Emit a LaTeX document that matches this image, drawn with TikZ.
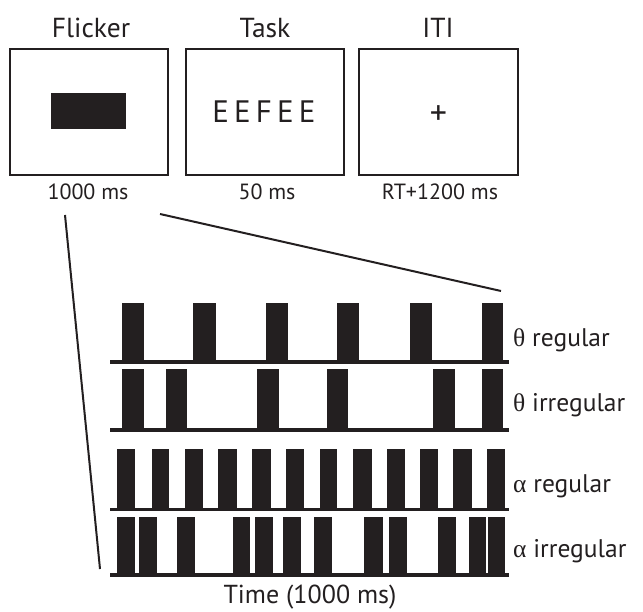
\documentclass[tikz,border=0pt]{standalone}
\usepackage{fontspec}
\setmainfont{PT Sans}
\newfontfamily\greekfont{Liberation Serif}
\definecolor{ink}{HTML}{231F20}
\begin{document}
\begin{tikzpicture}[x=1pt,y=-1pt,
  screen/.style={draw=ink,line width=2.7pt,fill=white},
  title/.style={anchor=base,inner sep=0pt,font=\fontsize{27.5}{32}\selectfont,text=ink},
  dur/.style={anchor=base,inner sep=0pt,font=\fontsize{22}{26}\selectfont,text=ink},
  lab/.style={anchor=base west,inner sep=0pt,font=\fontsize{25.5}{28}\selectfont,text=ink},
  zoomline/.style={draw=ink,line width=2pt},
  base/.style={draw=ink,line width=3.3pt},
  pulse/.style={fill=ink}]
\useasboundingbox (0,0) rectangle (643,612);
% screens
\draw[screen] (10,49) rectangle (168,175);
\draw[screen] (186,49) rectangle (344,175);
\draw[screen] (359,49) rectangle (518,175);
\fill[ink] (51,93) rectangle (126,129);
\node[anchor=center,inner sep=0pt,font=\fontsize{31}{34}\selectfont,text=ink] (letters) at (264,112) {E\,E\,F\,E\,E};
\node[anchor=center,inner sep=0pt,font=\fontsize{34}{36}\selectfont,text=ink] (plus) at (438.5,115) {+};
% titles
\node[title] (t1) at (91,38) {Flicker};
\node[title] (t2) at (265,38) {Task};
\node[title] (t3) at (438,38) {ITI};
% durations
\node[dur] (d1) at (88,200) {1000 ms};
\node[dur] (d2) at (267,200) {50 ms};
\node[dur] (d3) at (440,200) {RT+1200 ms};
% zoom lines
\coordinate (zl1) at (65,215);
\coordinate (zl2) at (100,569);
\coordinate (zr1) at (160,214);
\coordinate (zr2) at (501,291);
\draw[zoomline] (zl1) -- (zl2);
\draw[zoomline] (zr1) -- (zr2);
% theta regular
\foreach \a/\b in {121.7/144,193.3/215.7,265.7/287.7,337.3/359.3,410/431.7,482.3/503.3}
  \fill[pulse] (\a,303) rectangle (\b,362);
\draw[base] (110,362) -- (509,362);
% theta irregular
\foreach \a/\b in {121.7/144,165.7/187.3,256.7/279,326.7/348.3,432.7/455,482.3/503.3}
  \fill[pulse] (\a,369.3) rectangle (\b,430);
\draw[base] (110,430) -- (509,430);
% alpha regular
\foreach \a/\b in {116.7/135,151.7/169.3,185/203.3,218.3/236.7,251.7/270.7,285.7/304,320/337.3,353.3/371.7,386.7/405,420/438.3,453.3/471.7,486.7/505}
  \fill[pulse] (\a,449.3) rectangle (\b,509.3);
\draw[base] (110,509.3) -- (509,509.3);
% alpha irregular
\foreach \a/\b in {116.7/135,139.3/157.3,176.7/195,232.7/250,255/272.7,282.7/301,314/332.3,364.3/382.7,389.3/407.3,437.7/456,469.3/486,487.6/505}
  \fill[pulse] (\a,517.3) rectangle (\b,575);
\draw[base] (110,575) -- (509,575);
% labels
\node[lab] (l1) at (513,347) {{\greekfont θ} regular};
\node[lab] (l2) at (513,412) {{\greekfont θ} irregular};
\node[lab] (l3) at (513,492) {{\greekfont α} regular};
\node[lab] (l4) at (513,557) {{\greekfont α} irregular};
\node[dur,font=\fontsize{26}{30}\selectfont] (time) at (310,603) {Time (1000 ms)};
\end{tikzpicture}
\end{document}
